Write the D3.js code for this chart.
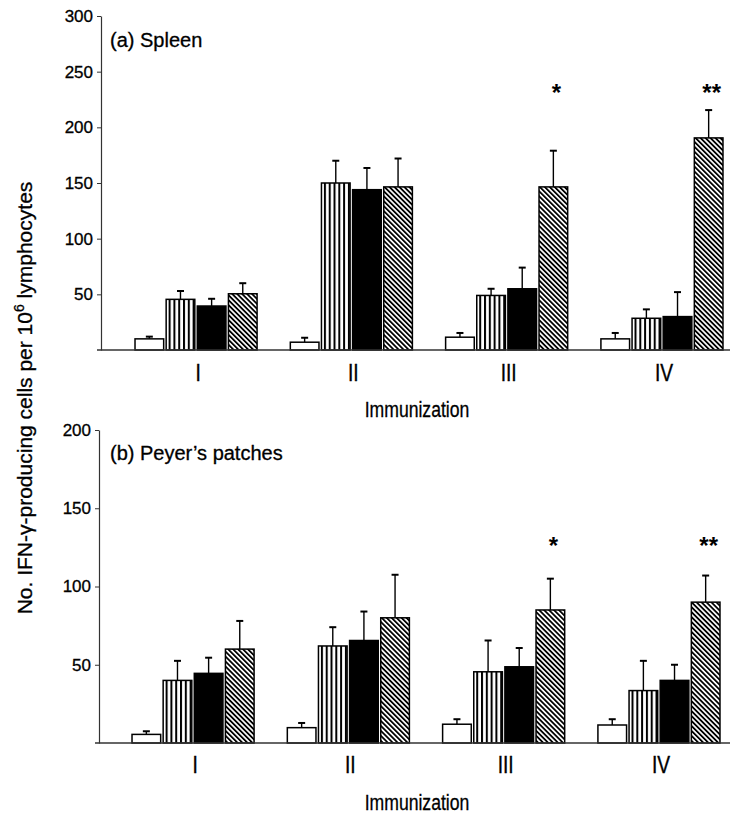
<!DOCTYPE html>
<html>
<head>
<meta charset="utf-8">
<script src="https://cdn.jsdelivr.net/npm/d3@7"></script>
<style>
  body { margin: 0; background: #fff; }
  svg { display: block; font-family: Arial, "Liberation Sans", sans-serif; }
</style>
</head>
<body>
<svg id="chart" width="750" height="821"></svg>
<script>
// ---- data ----
const categories = ["I", "II", "III", "IV"];
const series = ["control", "vertical", "solid", "hatched"];

// (a) Spleen
const spleenMeans = [
  [10, 45.5, 39.5, 50.5],
  [7, 150, 144, 146.5],
  [11.5, 49, 55, 146.5],
  [10, 28.5, 30, 190.5]
];
const spleenErrTops = [
  [12, 53, 46, 60],
  [11, 170, 163.5, 172],
  [15.3, 55, 74, 179],
  [15.3, 36.5, 52, 215.5]
];
const spleenStars = ["", "", "*", "**"];
const spleenStarValue = 233;
const spleenTicks = [50, 100, 150, 200, 250, 300];

// (b) Peyer's patches
const peyerMeans = [
  [5.5, 40, 44.5, 60],
  [9.8, 62, 65.5, 80],
  [12, 45.5, 48.7, 85],
  [11.5, 33.5, 40, 90]
];
const peyerErrTops = [
  [7.5, 52.5, 54.5, 78],
  [12.8, 74, 84, 107.5],
  [15.2, 65.5, 60.7, 105],
  [15.2, 52.5, 50, 107]
];
const peyerStars = ["", "", "*", "**"];
const peyerStarValue = 127;
const peyerTicks = [50, 100, 150, 200];

const svg = d3.select("#chart");

// patterns
const defs = svg.append("defs");
const pv = defs.append("pattern").attr("id", "pat-vert")
  .attr("patternUnits", "userSpaceOnUse").attr("width", 4.8).attr("height", 10);
pv.append("rect").attr("width", 4.8).attr("height", 10).attr("fill", "#fff");
pv.append("rect").attr("x", 0).attr("width", 2).attr("height", 10).attr("fill", "#000");

const pd = defs.append("pattern").attr("id", "pat-diag")
  .attr("patternUnits", "userSpaceOnUse").attr("width", 3.5).attr("height", 10)
  .attr("patternTransform", "rotate(-45)");
pd.append("rect").attr("width", 3.5).attr("height", 10).attr("fill", "#fff");
pd.append("rect").attr("x", 0).attr("width", 1.8).attr("height", 10).attr("fill", "#000");

const fills = {control: "#fff", vertical: "url(#pat-vert)", solid: "#000", hatched: "url(#pat-diag)"};

function panel(opts) {
  const {means, errTops, stars, starValue, ticks, yMax, yRange, xRange, axisX, baseX, title, titleY, romanY, labelY} = opts;
  const g = svg.append("g");
  const y = d3.scaleLinear().domain([0, yMax]).range(yRange);
  const x0 = d3.scaleBand().domain(categories).range(xRange).paddingInner(0.214).paddingOuter(0.107);
  const x1 = d3.scaleBand().domain(series).range([0, x0.bandwidth()]).paddingInner(0.08);

  // y axis
  const yAxis = d3.axisLeft(y).tickValues(ticks).tickSize(4).tickPadding(4).tickSizeOuter(0);
  const ya = g.append("g").attr("transform", `translate(${axisX},0)`).call(yAxis);
  ya.select(".domain").attr("stroke", "#333").attr("stroke-width", 1.2);
  ya.selectAll(".tick line").attr("stroke", "#333");
  ya.selectAll(".tick text").attr("font-size", 17).attr("fill", "#000")
    .attr("stroke", "#000").attr("stroke-width", 0.3)
    .attr("font-family", "Arial, 'Liberation Sans', sans-serif");

  // groups
  const groups = g.selectAll(".grp").data(categories).join("g")
    .attr("transform", d => `translate(${x0(d)},0)`);

  groups.each(function(cat, ci) {
    const gg = d3.select(this);
    series.forEach((s, si) => {
      const v = means[ci][si], e = errTops[ci][si];
      const cx = x1(s) + x1.bandwidth() / 2;
      // error bar
      gg.append("line").attr("x1", cx).attr("x2", cx).attr("y1", y(v)).attr("y2", y(e))
        .attr("stroke", "#000").attr("stroke-width", 1.4);
      gg.append("line").attr("x1", cx - 3.5).attr("x2", cx + 3.5).attr("y1", y(e)).attr("y2", y(e))
        .attr("stroke", "#000").attr("stroke-width", 2);
      gg.append("rect").attr("x", x1(s)).attr("y", y(v))
        .attr("width", x1.bandwidth()).attr("height", y(0) - y(v))
        .attr("fill", fills[s]).attr("stroke", "#000").attr("stroke-width", 1.5);
    });
    if (stars[ci]) {
      const s = series[3];
      gg.append("text").attr("x", x1(s) + x1.bandwidth() / 2 + 3).attr("y", y(starValue) + 10)
        .attr("text-anchor", "middle").attr("font-size", 24).attr("font-weight", "bold")
        .text(stars[ci]);
    }
  });

  // baseline
  g.append("line").attr("x1", baseX[0]).attr("x2", baseX[1]).attr("y1", y(0)).attr("y2", y(0))
    .attr("stroke", "#333").attr("stroke-width", 1.4);

  // roman labels
  g.selectAll(".roman").data(categories).join("text")
    .attr("transform", d => `translate(${x0(d) + x0.bandwidth() / 2 + 2},${romanY}) scale(0.8,1)`)
    .attr("text-anchor", "middle").attr("font-size", 24)
    .attr("stroke", "#000").attr("stroke-width", 0.4).text(d => d);

  g.append("text").attr("transform", `translate(417,${labelY}) scale(0.8,1)`)
    .attr("text-anchor", "middle").attr("font-size", 22)
    .attr("stroke", "#000").attr("stroke-width", 0.3).text("Immunization");

  g.append("text").attr("x", 110).attr("y", titleY).attr("font-size", 20)
    .attr("stroke", "#000").attr("stroke-width", 0.3).text(title);
}

panel({
  means: spleenMeans, errTops: spleenErrTops, stars: spleenStars, starValue: spleenStarValue,
  ticks: spleenTicks, yMax: 300, yRange: [350, 16], xRange: [118.4, 739.6],
  axisX: 101, baseX: [97, 730], title: "(a) Spleen", titleY: 47, romanY: 381, labelY: 417
});
panel({
  means: peyerMeans, errTops: peyerErrTops, stars: peyerStars, starValue: peyerStarValue,
  ticks: peyerTicks, yMax: 200, yRange: [743, 430], xRange: [115.4, 736.6],
  axisX: 99, baseX: [95, 730], title: "(b) Peyer\u2019s patches", titleY: 460, romanY: 773, labelY: 810
});

// y axis label
const yl = svg.append("text").attr("transform", "translate(32,398) rotate(-90)")
  .attr("text-anchor", "middle").attr("font-size", 21)
  .attr("stroke", "#000").attr("stroke-width", 0.3);
yl.append("tspan").text("No. IFN-\u03B3-producing cells per 10");
yl.append("tspan").attr("font-size", 14).attr("dy", -8).text("6");
yl.append("tspan").attr("dy", 8).text(" lymphocytes");
</script>
</body>
</html>
